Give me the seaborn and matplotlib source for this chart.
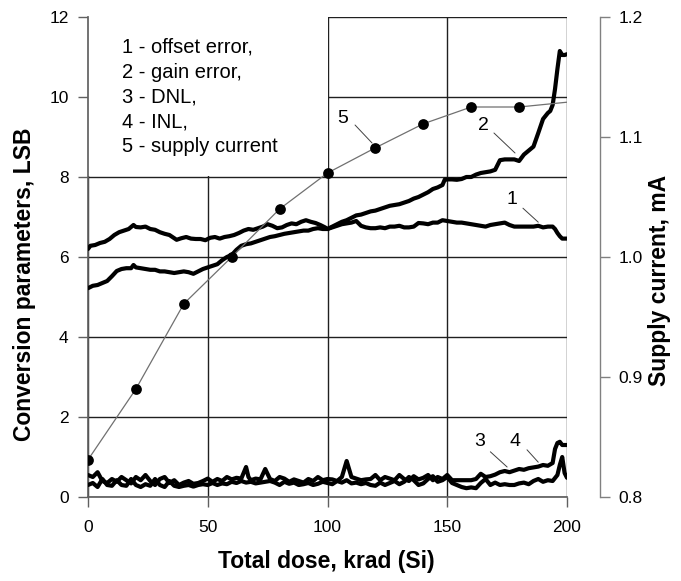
import matplotlib
matplotlib.use("Agg")
import matplotlib.pyplot as plt
import seaborn as sns
import numpy as np

# ---------------- data ----------------
x_offset = [0, 1, 3, 5, 7, 9, 11, 13, 15, 17, 19, 20, 22, 24, 26, 28, 30, 32, 34, 36, 37, 39, 41, 43, 45, 47, 49,
            51, 53, 55, 57, 59, 61, 63, 65, 67, 69, 71, 73, 75, 77, 79, 81, 83, 85, 87, 89, 91, 93, 95, 97, 99,
            100, 102, 104, 106, 108, 110, 112, 114, 116, 118, 120, 122, 124, 126, 128, 130, 132, 134, 136, 138,
            140, 142, 144, 146, 148, 150, 152, 154, 156, 158, 160, 162, 164, 166, 168, 170, 172, 174, 176, 178,
            180, 182, 184, 186, 188, 190, 192, 194, 195, 196, 197, 198, 200]
y_offset = [6.2, 6.28, 6.3, 6.35, 6.38, 6.45, 6.55, 6.62, 6.66, 6.7, 6.8, 6.75, 6.74, 6.76, 6.7, 6.68, 6.62, 6.58,
            6.55, 6.47, 6.43, 6.47, 6.5, 6.46, 6.45, 6.45, 6.42, 6.48, 6.5, 6.46, 6.5, 6.52, 6.55, 6.6, 6.66, 6.7,
            6.68, 6.72, 6.76, 6.82, 6.78, 6.72, 6.74, 6.8, 6.84, 6.82, 6.88, 6.92, 6.88, 6.85, 6.8, 6.74, 6.7, 6.74,
            6.78, 6.82, 6.84, 6.86, 6.9, 6.78, 6.74, 6.72, 6.72, 6.74, 6.72, 6.76, 6.76, 6.78, 6.74, 6.74, 6.76,
            6.85, 6.84, 6.82, 6.86, 6.86, 6.92, 6.9, 6.88, 6.86, 6.86, 6.84, 6.82, 6.8, 6.78, 6.76, 6.8, 6.82, 6.84,
            6.86, 6.8, 6.76, 6.76, 6.76, 6.76, 6.76, 6.78, 6.74, 6.76, 6.76, 6.7, 6.6, 6.52, 6.46, 6.46]

x_gain = [0, 2, 4, 6, 8, 10, 12, 14, 16, 18, 19, 20, 22, 24, 26, 28, 30, 32, 34, 36, 38, 40, 42, 44, 46, 48, 50,
          52, 54, 56, 58, 60, 62, 64, 66, 68, 70, 72, 74, 76, 78, 80, 82, 84, 86, 88, 90, 92, 94, 96, 98, 100, 102,
          104, 106, 108, 110, 112, 114, 116, 118, 120, 122, 124, 126, 128, 130, 132, 134, 136, 138, 140, 142, 144,
          146, 148, 149, 150, 152, 154, 156, 158, 160, 162, 164, 166, 168, 170, 172, 174, 176, 178, 180, 182, 184,
          186, 188, 190, 192, 193, 194, 195, 196, 197, 198, 199, 200]
y_gain = [5.22, 5.28, 5.3, 5.35, 5.4, 5.52, 5.65, 5.7, 5.72, 5.72, 5.8, 5.74, 5.72, 5.7, 5.68, 5.68, 5.64, 5.64,
          5.62, 5.6, 5.62, 5.64, 5.62, 5.58, 5.64, 5.7, 5.74, 5.78, 5.82, 5.92, 6.0, 6.05, 6.18, 6.28, 6.32, 6.34,
          6.38, 6.42, 6.46, 6.5, 6.52, 6.55, 6.58, 6.6, 6.62, 6.64, 6.66, 6.66, 6.7, 6.72, 6.7, 6.7, 6.76, 6.82,
          6.88, 6.92, 6.98, 7.04, 7.06, 7.1, 7.14, 7.16, 7.2, 7.24, 7.28, 7.3, 7.32, 7.36, 7.4, 7.46, 7.5, 7.56,
          7.62, 7.7, 7.74, 7.8, 7.94, 7.94, 7.94, 7.93, 7.95, 8.0, 8.0, 8.06, 8.1, 8.12, 8.14, 8.18, 8.42, 8.44,
          8.44, 8.44, 8.4, 8.56, 8.66, 8.76, 9.1, 9.45, 9.6, 9.65, 9.8, 10.2, 10.7, 11.15, 11.05, 11.05, 11.07]

x_dnl = list(range(0, 196, 2)) + [196, 197, 198, 199, 200]
y_dnl = [0.3, 0.35, 0.25, 0.45, 0.3, 0.28, 0.42, 0.3, 0.28, 0.45, 0.3, 0.25, 0.32, 0.28, 0.45, 0.3, 0.25, 0.4,
         0.28, 0.25, 0.28, 0.3, 0.26, 0.3, 0.32, 0.3, 0.35, 0.3, 0.34, 0.32, 0.38, 0.35, 0.4, 0.36, 0.38, 0.34,
         0.36, 0.38, 0.4, 0.36, 0.3, 0.38, 0.33, 0.36, 0.3, 0.32, 0.35, 0.3, 0.33, 0.38, 0.35, 0.32, 0.4, 0.36,
         0.42, 0.34, 0.36, 0.32, 0.35, 0.3, 0.28, 0.36, 0.3, 0.35, 0.4, 0.32, 0.38, 0.5, 0.42, 0.3, 0.34, 0.45,
         0.52, 0.38, 0.42, 0.5, 0.35, 0.3, 0.25, 0.22, 0.24, 0.22, 0.35, 0.45, 0.3, 0.36, 0.3, 0.32, 0.3, 0.3,
         0.34, 0.36, 0.32, 0.4, 0.45, 0.38, 0.42, 0.4, 0.55, 0.8, 1.0, 0.6, 0.48]

x_inl = list(range(0, 66, 2)) + [66, 67] + list(range(68, 196, 2)) + [195, 196, 197, 198, 200]
y_inl = [0.55, 0.5, 0.62, 0.4, 0.35, 0.45, 0.38, 0.5, 0.42, 0.34, 0.5, 0.42, 0.55, 0.4, 0.3, 0.45, 0.5, 0.35,
         0.42, 0.3, 0.36, 0.4, 0.33, 0.35, 0.4, 0.46, 0.38, 0.45, 0.4, 0.5, 0.44, 0.48, 0.46, 0.75, 0.5, 0.42,
         0.46, 0.44, 0.7, 0.45, 0.4, 0.5, 0.46, 0.38, 0.44, 0.4, 0.36, 0.45, 0.4, 0.5, 0.42, 0.45, 0.44, 0.4,
         0.5, 0.9, 0.5, 0.46, 0.42, 0.44, 0.45, 0.55, 0.42, 0.5, 0.46, 0.42, 0.55, 0.45, 0.4, 0.52, 0.44, 0.48,
         0.55, 0.42, 0.5, 0.45, 0.55, 0.42, 0.42, 0.42, 0.42, 0.42, 0.45, 0.58, 0.5, 0.52, 0.56, 0.62, 0.65,
         0.62, 0.66, 0.7, 0.68, 0.72, 0.74, 0.76, 0.8, 0.78, 0.85, 1.2, 1.35, 1.38, 1.3, 1.3]

x_current = [0, 20, 40, 60, 80, 100, 120, 140, 160, 180]
y_current = [0.831, 0.89, 0.961, 1.0, 1.04, 1.07, 1.091, 1.111, 1.125, 1.125]
x_current_end = 200
y_current_end = 1.129

legend_lines = ["1 - offset error,", "2 - gain error,", "3 - DNL,", "4 - INL,", "5 - supply current"]

x_ticks = [0, 50, 100, 150, 200]
y_ticks = [0, 2, 4, 6, 8, 10, 12]
y2_ticks = [0.8, 0.9, 1.0, 1.1, 1.2]

# ---------------- style ----------------
sns.set_theme(style="white")
plt.rcParams['font.family'] = ['Liberation Sans', 'DejaVu Sans']
plt.rcParams['text.color'] = 'black'
plt.rcParams['axes.labelcolor'] = 'black'
plt.rcParams['xtick.color'] = 'black'
plt.rcParams['ytick.color'] = 'black'

W, H = 681, 581
fig = plt.figure(figsize=(W / 100, H / 100), dpi=100)
ax = fig.add_axes([88 / W, 1 - 497 / H, (567 - 88) / W, (497 - 17) / H])
ax2 = ax.twinx()

grid_c = '#202020'
ax.set_xlim(0, 200)
ax.set_ylim(0, 12)
ax2.set_ylim(0.8, 1.2)

for xv in x_ticks:
    ax.axvline(xv, color=grid_c, lw=1.0, zorder=1)
for yv in y_ticks:
    ax.axhline(yv, color=grid_c, lw=1.0, zorder=1)

# white box behind legend text
ax.fill_between([0, 100], 8.03, 12, color='white', zorder=2, lw=0)

for xs, ys in [(x_offset, y_offset), (x_gain, y_gain), (x_dnl, y_dnl), (x_inl, y_inl)]:
    sns.lineplot(x=xs, y=ys, ax=ax, color='black', lw=3.0, estimator=None, sort=False, zorder=4)

xc = x_current + [x_current_end]
yc = y_current + [y_current_end]
sns.lineplot(x=xc, y=yc, ax=ax2, color='#707070', lw=0.9, estimator=None, sort=False, zorder=3)
sns.scatterplot(x=x_current, y=y_current, ax=ax2, color='black', s=60, zorder=5, edgecolor='black', linewidth=0)
ax2.set_zorder(ax.get_zorder() + 1)
ax2.patch.set_visible(False)

# legend text
for i, t in enumerate(legend_lines):
    ax.text(14.2, 11.25 - i * 0.625, t, fontsize=14.5, va='center', ha='left', zorder=6, color='black')

# curve labels with leader lines
labels = [("1", 177, 7.45, (181.6, 7.22), (188, 6.87)),
          ("2", 165, 9.3, (169.5, 9.1), (178.3, 8.6)),
          ("5", 106.5, 9.47, (111.5, 9.3), (118.6, 8.85)),
          ("3", 163.7, 1.38, (168, 1.13), (175, 0.75)),
          ("4", 178.3, 1.38, (183.3, 1.18), (188, 0.87))]
for t, lx, ly, p0, p1 in labels:
    ax.text(lx, ly, t, fontsize=14, ha='center', va='center', zorder=6, color='black')
    ax.plot([p0[0], p1[0]], [p0[1], p1[1]], color='#404040', lw=0.7, zorder=6)

# axes formatting
for s in ['top', 'right']:
    ax.spines[s].set_visible(False)
ax.spines['left'].set_color('#606060')
ax.spines['bottom'].set_color('#606060')
for s in ['top', 'left', 'bottom']:
    ax2.spines[s].set_visible(False)
ax2.spines['right'].set_position(('outward', 24))
ax2.spines['right'].set_color('#808080')
ax2.spines['right'].set_linewidth(1.0)

ax.set_xticks(x_ticks)
ax.set_yticks(y_ticks)
ax2.set_yticks(y2_ticks)
ax.set_xticklabels([str(v) for v in x_ticks])
ax.set_yticklabels([str(v) for v in y_ticks])
ax2.set_yticklabels([f"{v:.1f}" for v in y2_ticks])
ax.tick_params(axis='both', direction='out', length=7, width=1, color='#606060', labelcolor='black',
               labelsize=12.5, left=True, bottom=True, pad=7)
ax.tick_params(axis='x', pad=9.5)
ax2.tick_params(axis='y', direction='out', length=7, width=1, color='#808080', labelcolor='black',
                labelsize=12.5, right=True, pad=6)

ax.set_xlabel("Total dose, krad (Si)", fontsize=16.5, fontweight='bold', color='black')
ax.set_ylabel("Conversion parameters, LSB", fontsize=16.5, fontweight='bold', color='black')
ax2.set_ylabel("Supply current, mA", fontsize=16.5, fontweight='bold', color='black')
ax.xaxis.set_label_coords((326 - 88) / 479, -(550 - 497) / 480)
ax.yaxis.set_label_coords(-(88 - 36) / 479, (497 - 284) / 480)
ax2.yaxis.set_label_coords((648 - 88) / 479, (497 - 280) / 480)

fig.savefig("out.png", dpi=100)
